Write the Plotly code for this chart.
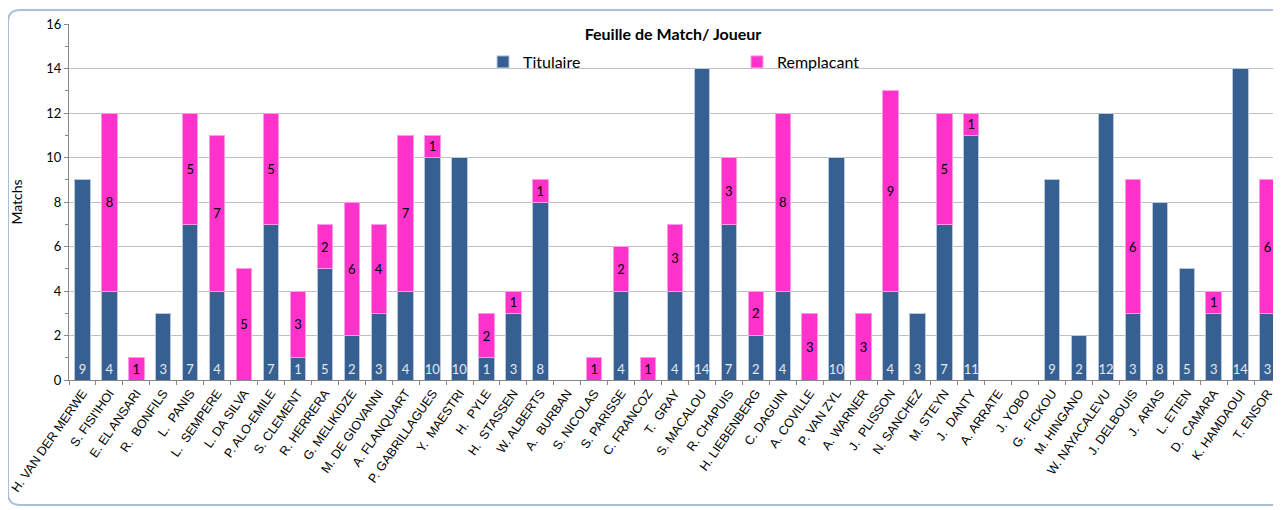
import plotly.graph_objects as go

players = ["H. VAN DER MERWE", "S. FISI'IHOI", "E. EL ANSARI", "R.  BONFILS", "L.  PANIS",
           "L.  SEMPERE", "L. DA SILVA", "P. ALO-EMILE", "S. CLEMENT", "R. HERRERA",
           "G. MELIKIDZE", "M. DE GIOVANNI", "A. FLANQUART", "P. GABRILLAGUES", "Y.  MAESTRI",
           "H.  PYLE", "H.  STASSEN", "W. ALBERTS", "A.  BURBAN", "S. NICOLAS",
           "S. PARISSE", "C. FRANCOZ", "T.  GRAY", "S. MACALOU", "R. CHAPUIS",
           "H. LIEBENBERG", "C. DAGUIN", "A. COVILLE", "P. VAN ZYL", "A. WARNER",
           "J.  PLISSON", "N. SANCHEZ", "M. STEYN", "J.  DANTY", "A. ARRATE",
           "J. YOBO", "G.  FICKOU", "M. HINGANO", "W. NAYACALEVU", "J. DELBOUIS",
           "J.  ARIAS", "L. ETIEN", "D.  CAMARA", "K. HAMDAOUI", "T. ENSOR"]

titulaire = [9, 4, 0, 3, 7, 4, 0, 7, 1, 5, 2, 3, 4, 10, 10, 1, 3, 8, 0, 0,
             4, 0, 4, 14, 7, 2, 4, 0, 10, 0, 4, 3, 7, 11, 0, 0, 9, 2, 12, 3,
             8, 5, 3, 14, 3]
remplacant = [0, 8, 1, 0, 5, 7, 5, 5, 3, 2, 6, 4, 7, 1, 0, 2, 1, 1, 0, 1,
              2, 1, 3, 0, 3, 2, 8, 3, 0, 3, 9, 0, 5, 1, 0, 0, 0, 0, 0, 6,
              0, 0, 1, 0, 6]

series_names = ["Titulaire", "Remplacant"]
y_ticks = [0, 2, 4, 6, 8, 10, 12, 14, 16]

BLUE = "#376092"
PINK = "#FF33CC"

fig = go.Figure()
fig.add_trace(go.Bar(
    x=players, y=[v if v else None for v in titulaire], name=series_names[0],
    marker=dict(color=BLUE, line=dict(color="#B9C7DA", width=1)),
    text=[str(v) if v else "" for v in titulaire],
    textposition="inside", insidetextanchor="start", constraintext="none",
    textfont=dict(family="Lato", size=13, color="#E6E9EF"),
    width=0.57,
))
fig.add_trace(go.Bar(
    x=players, y=[v if v else None for v in remplacant], name=series_names[1],
    marker=dict(color=PINK, line=dict(color="#FF9BE3", width=1)),
    text=[str(v) if v else "" for v in remplacant],
    textposition="inside", insidetextanchor="middle", constraintext="none",
    textfont=dict(family="Lato", size=13, color="black"),
    width=0.57,
))

# page is offset by the 8px default body margin
OFF = 8
W, H = 1281 - OFF, 510 - OFF
L, R = 69, 1281      # plot area in page pixels
T, B = 24, 380

def px(x):
    return (x - L) / (R - L)

def pyy(y):
    return (B - y) / (B - T)

x0, x1, y0, y1, r = px(8), px(1300), pyy(10), pyy(505), 12
rx = r / (R - L)
ry = r / (B - T)
path = (f"M {x1},{y0} L {x0+rx},{y0} Q {x0},{y0} {x0},{y0-ry} "
        f"L {x0},{y1+ry} Q {x0},{y1} {x0+rx},{y1} L {x1},{y1}")

fig.update_layout(
    width=W, height=H,
    barmode="stack",
    plot_bgcolor="white", paper_bgcolor="white",
    margin=dict(l=L - OFF, r=1281 - R, t=T - OFF, b=510 - B, autoexpand=False),
    title=dict(text="<b>Feuille de Match/ Joueur</b>", xref="paper", x=px(673), xanchor="center",
               y=1 - (34 - OFF) / H, yanchor="middle",
               font=dict(family="Lato", size=16, color="black")),
    legend=dict(orientation="h", x=px(483), xanchor="left", y=pyy(62), yanchor="middle",
                font=dict(family="Lato", size=16, color="black"),
                entrywidth=209, entrywidthmode="pixels", traceorder="normal",
                bgcolor="rgba(0,0,0,0)", itemclick=False),
    xaxis=dict(
        type="category", tickangle=-55, tickson="boundaries",
        ticks="outside", ticklen=4, tickcolor="#888888",
        showline=True, linecolor="#888888", linewidth=1,
        tickfont=dict(family="Liberation Sans", size=12.5, color="black"),
        showgrid=False, range=[-0.5, len(players) - 0.5],
    ),
    yaxis=dict(
        range=[0, 16], tickvals=y_ticks, ticks="outside", ticklen=4,
        tickcolor="#888888", showline=True, linecolor="#888888", linewidth=1,
        gridcolor="#BFBFBF", gridwidth=1,
        minor=dict(dtick=1, ticks="outside", ticklen=3, tickcolor="#888888", showgrid=False),
        tickfont=dict(family="Lato", size=13, color="black"),
        title=dict(text="Matchs", font=dict(family="Lato", size=14, color="black"), standoff=26),
        zeroline=False,
    ),
    shapes=[dict(type="path", xref="paper", yref="paper", path=path,
                 line=dict(color="#A9BED8", width=2), layer="above")],
)

fig.write_html("out.html")
